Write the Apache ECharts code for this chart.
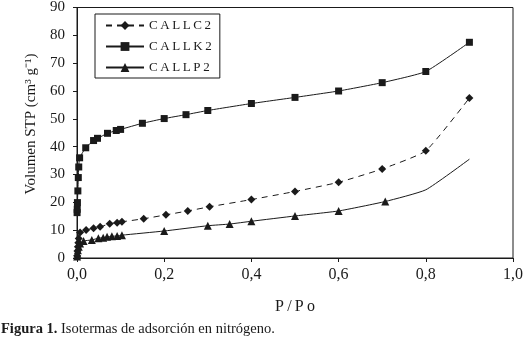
<!DOCTYPE html>
<html>
<head>
<meta charset="utf-8">
<script src="https://cdn.jsdelivr.net/npm/echarts@6/dist/echarts.min.js"></script>
<style>
  html, body { margin: 0; padding: 0; background: #fff; }
  #chart { width: 526px; height: 338px; }
</style>
</head>
<body>
<div id="chart"></div>
<script>
// P/Po (relative pressure) and adsorbed volume per sample
var c2X = [0.0003, 0.001, 0.002, 0.003, 0.004, 0.007, 0.021, 0.038, 0.053, 0.075, 0.092, 0.103, 0.153, 0.204, 0.254, 0.304, 0.40, 0.50, 0.60, 0.70, 0.80, 0.90]
var c2Y = [0.8, 2.5, 4.0, 5.5, 7.0, 9.2, 10.1, 10.7, 11.2, 12.3, 12.7, 13.0, 14.1, 15.5, 16.9, 18.4, 21.0, 23.9, 27.2, 32.0, 38.5, 57.5]
var k2X = [0.0002, 0.0005, 0.001, 0.002, 0.003, 0.004, 0.006, 0.02, 0.038, 0.047, 0.07, 0.09, 0.10, 0.15, 0.20, 0.25, 0.30, 0.40, 0.50, 0.60, 0.70, 0.80, 0.90]
var k2Y = [16.3, 17.5, 19.9, 24.1, 28.9, 32.7, 36.0, 39.6, 42.2, 43.0, 44.8, 45.8, 46.2, 48.4, 50.1, 51.5, 53.0, 55.5, 57.7, 60.0, 63.0, 67.0, 77.5]
var p2X = [0.0003, 0.001, 0.002, 0.004, 0.007, 0.015, 0.034, 0.049, 0.06, 0.069, 0.08, 0.092, 0.103, 0.20, 0.30, 0.35, 0.40, 0.50, 0.60, 0.707, 0.80, 0.90]
var p2Y = [0.5, 1.5, 2.8, 4.0, 5.2, 6.1, 6.5, 7.1, 7.3, 7.6, 7.8, 7.9, 8.2, 9.7, 11.6, 12.2, 13.2, 15.1, 16.9, 20.3, 24.5, 35.5]
var p2Marked = 20 // last points of CALLP2 are drawn without markers

var seriesNames = ['CALLC2', 'CALLK2', 'CALLP2']

function pairs(xs, ys) {
  return xs.map(function(x, i) { return [x, ys[i]] })
}
function spaced(s) {
  return s.split('').join('\u2009')
}

var serif = 'Liberation Serif'
var ink = '#1a1a1a'

var chart = echarts.init(document.getElementById('chart'))
var option = {
  animation: false,
  textStyle: { fontFamily: serif, color: ink },
  grid: {
    left: 77,
    right: 12,
    top: 7,
    bottom: 80,
    show: true,
    borderColor: ink,
    borderWidth: 1
  },
  legend: {
    orient: 'vertical',
    left: 95,
    top: 14,
    padding: [5, 8, 4, 10],
    itemGap: 8,
    itemWidth: 38,
    itemHeight: 11,
    borderColor: ink,
    borderWidth: 1,
    data: seriesNames,
    formatter: function(name) { return spaced(name) },
    textStyle: { fontFamily: serif, fontSize: 13, color: ink }
  },
  xAxis: {
    type: 'value',
    min: 0,
    max: 1,
    interval: 0.2,
    splitLine: { show: false },
    axisLine: { lineStyle: { color: ink, width: 1 } },
    axisTick: { show: true, length: 4, inside: false, lineStyle: { color: ink } },
    axisLabel: {
      margin: 9,
      fontFamily: serif,
      fontSize: 16,
      color: ink,
      formatter: function(v) { return v.toFixed(1).replace('.', ',') }
    },
    name: spaced('P/Po'),
    nameLocation: 'middle',
    nameGap: 41,
    nameTextStyle: { fontFamily: serif, fontSize: 16, color: ink }
  },
  yAxis: {
    type: 'value',
    min: 0,
    max: 90,
    interval: 10,
    splitLine: { show: false },
    axisLine: { show: true, lineStyle: { color: ink, width: 1 } },
    axisTick: { show: true, length: 4, inside: false, lineStyle: { color: ink } },
    axisLabel: { margin: 12, fontFamily: serif, fontSize: 15, color: ink }
  },
  title: {
    text: '{b|Figura 1.} Isotermas de adsorción en nitrógeno.',
    left: 1,
    top: 322,
    padding: 0,
    textStyle: {
      fontFamily: serif,
      fontSize: 14.5,
      fontWeight: 'normal',
      color: ink,
      rich: { b: { fontFamily: serif, fontSize: 14.5, fontWeight: 'bold', color: ink } }
    }
  },
  graphic: [{
    type: 'text',
    x: 31,
    y: 124,
    rotation: Math.PI / 2,
    style: {
      text: 'Volumen STP (cm\u00b3 g\u207b\u00b9)',
      font: '15px "Liberation Serif"',
      fill: ink,
      align: 'center',
      verticalAlign: 'middle'
    }
  }],
  series: [
    {
      name: seriesNames[0],
      type: 'line',
      data: pairs(c2X, c2Y),
      symbol: 'diamond',
      symbolSize: 8,
      smooth: 0.15,
      itemStyle: { color: ink },
      lineStyle: { color: ink, width: 1, type: [6, 5] }
    },
    {
      name: seriesNames[1],
      type: 'line',
      data: pairs(k2X, k2Y),
      symbol: 'rect',
      symbolSize: 7,
      smooth: 0.15,
      itemStyle: { color: ink },
      lineStyle: { color: ink, width: 1 }
    },
    {
      name: seriesNames[2],
      type: 'line',
      data: pairs(p2X, p2Y),
      symbol: 'triangle',
      symbolSize: function(value, params) {
        return params.dataIndex < p2Marked ? 8 : 0
      },
      smooth: 0.15,
      itemStyle: { color: ink },
      lineStyle: { color: ink, width: 1 }
    }
  ]
}
chart.setOption(option)
window.addEventListener('resize', function() {
  chart.resize()
})
</script>
</body>
</html>
